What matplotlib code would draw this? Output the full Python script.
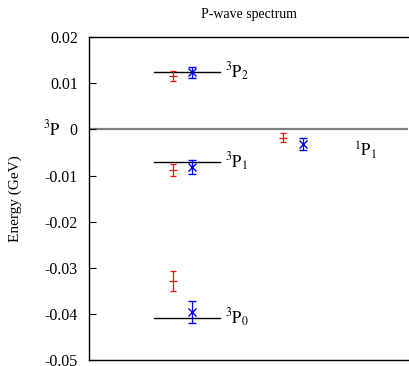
import matplotlib
matplotlib.use("Agg")
import matplotlib.pyplot as plt

plt.rcParams["font.family"] = ["Liberation Serif", "DejaVu Serif"]
plt.rcParams["mathtext.fontset"] = "stix"

# experimental reference levels (GeV)
states = ["3P2", "3P1", "3P0"]
level = [0.01241, -0.00711, -0.04082]
# lattice results: red and blue sets
red_val = [0.01167, -0.00879, -0.03286]
red_err = [0.00108, 0.00130, 0.00217]
blue_val = [0.01240, -0.00813, -0.03965]
blue_err = [0.00115, 0.00150, 0.00240]
# singlet 1P1
p1_red = -0.00178
p1_red_err = 0.00094
p1_blue = -0.00308
p1_blue_err = 0.00130

level_labels = [r"$^3\mathrm{P}_2$", r"$^3\mathrm{P}_1$", r"$^3\mathrm{P}_0$"]

fig = plt.figure(figsize=(4.1, 3.66), dpi=100)
ax = fig.add_axes([0.217, 0.0164, 0.779, 0.882])

ax.axhline(0, color="#808080", lw=1.6, zorder=1)

for v, lab in zip(level, level_labels):
    ax.plot([0.204, 0.409], [v, v], color="black", lw=1.0, zorder=2)
    ax.text(0.425, v, lab, fontsize=12, ha="left", va="center")

ax.errorbar([0.262] * 3, red_val, yerr=red_err, fmt="_", color="#ee1111",
            ms=6, capsize=2.5, elinewidth=0.9, capthick=0.9, mew=0.9, zorder=3)
ax.errorbar([0.324] * 3, blue_val, yerr=blue_err, fmt="x", color="blue",
            ms=6, capsize=2.8, elinewidth=0.9, capthick=0.9, mew=1.0, zorder=3)

ax.errorbar([0.609], [p1_red], yerr=[p1_red_err], fmt="_", color="#ee1111",
            ms=6, capsize=2.5, elinewidth=0.9, capthick=0.9, mew=0.9, zorder=3)
ax.errorbar([0.671], [p1_blue], yerr=[p1_blue_err], fmt="x", color="blue",
            ms=6, capsize=2.8, elinewidth=0.9, capthick=0.9, mew=1.0, zorder=3)
ax.text(0.83, -0.0045, r"$^1\mathrm{P}_1$", fontsize=12, ha="left", va="center")

ax.text(-0.145, 0, r"$^3\mathrm{P}$", fontsize=12, ha="left", va="center",
        transform=ax.get_yaxis_transform())

ax.set_xlim(0, 1)
ax.set_ylim(-0.05, 0.02)
ax.set_xticks([])
ax.set_yticks([0.02, 0.01, 0, -0.01, -0.02, -0.03, -0.04, -0.05])
ax.set_yticklabels(["0.02", "0.01", "0", "-0.01", "-0.02", "-0.03", "-0.04", "-0.05"])
ax.tick_params(axis="y", direction="in", length=5, labelsize=11.5, pad=8)
ax.spines["right"].set_visible(False)
for s in ["left", "top", "bottom"]:
    ax.spines[s].set_linewidth(1.0)

ax.set_ylabel("Energy (GeV)", fontsize=11, labelpad=16)
ax.set_title("P-wave spectrum", fontsize=10, pad=14)

fig.savefig("out.png", dpi=100)
